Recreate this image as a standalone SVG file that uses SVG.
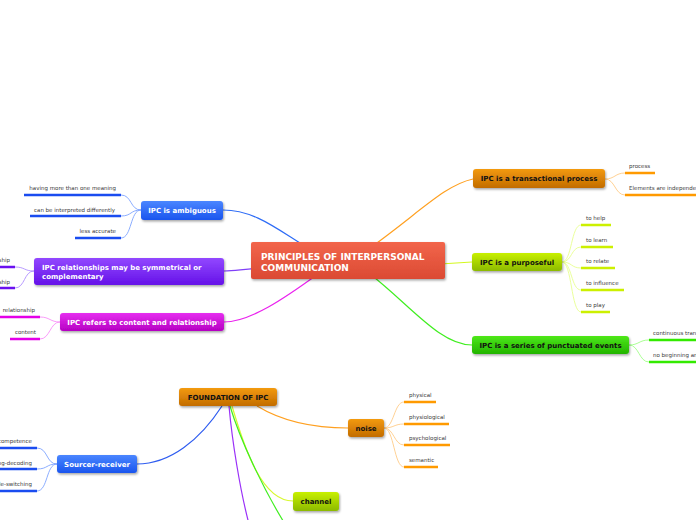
<svg xmlns="http://www.w3.org/2000/svg" width="696" height="520" viewBox="0 0 696 520">
<defs>
<linearGradient id="gRed" x1="0" y1="0" x2="0" y2="1"><stop offset="0" stop-color="#f2654b"/><stop offset="1" stop-color="#db4a33"/></linearGradient>
<linearGradient id="gBlue" x1="0" y1="0" x2="0" y2="1"><stop offset="0" stop-color="#4a86ff"/><stop offset="1" stop-color="#1a55ee"/></linearGradient>
<linearGradient id="gPurple" x1="0" y1="0" x2="0" y2="1"><stop offset="0" stop-color="#9248ff"/><stop offset="1" stop-color="#6512e8"/></linearGradient>
<linearGradient id="gMag" x1="0" y1="0" x2="0" y2="1"><stop offset="0" stop-color="#e62ef0"/><stop offset="1" stop-color="#b500c2"/></linearGradient>
<linearGradient id="gOrange" x1="0" y1="0" x2="0" y2="1"><stop offset="0" stop-color="#f39a10"/><stop offset="1" stop-color="#c26c00"/></linearGradient>
<linearGradient id="gYG" x1="0" y1="0" x2="0" y2="1"><stop offset="0" stop-color="#c8f000"/><stop offset="1" stop-color="#8cba00"/></linearGradient>
<linearGradient id="gGreen" x1="0" y1="0" x2="0" y2="1"><stop offset="0" stop-color="#4ee81a"/><stop offset="1" stop-color="#22b400"/></linearGradient>
<filter id="sh" x="-10%" y="-30%" width="120%" height="170%"><feDropShadow dx="1" dy="1.5" stdDeviation="1" flood-color="#000" flood-opacity="0.35"/></filter>
</defs>
<style>
.node rect{filter:url(#sh)}
.nt{font-family:"DejaVu Sans",Verdana,sans-serif;font-weight:bold;font-size:7px}
.big{font-size:9px}
.w{fill:#ffffff}
.k{fill:#111111}
.lt{font-family:"DejaVu Sans",Verdana,sans-serif;font-size:5.5px;fill:#3a3a3a}
.c{fill:none;stroke-width:1.2}
.b{fill:none;stroke-width:0.9}
.ln{fill:none;stroke-width:2.6}
</style>
<rect width="696" height="520" fill="#ffffff"/>

<g id="connectors">
<path class="c" stroke="#2e6cf6" d="M223,210 C255,210 278,230 308,248"/>
<path class="c" stroke="#8040f8" d="M224,271 C236,271 242,269 262,268"/>
<path class="c" stroke="#ea22ee" d="M224,322 C250,322 285,298 318,274"/>
<path class="c" stroke="#ffa020" d="M370,248 C420,212 445,185 473,179"/>
<path class="c" stroke="#d4f820" d="M440,264 L472,262"/>
<path class="c" stroke="#40ee20" d="M370,274 C410,305 440,345 472,345"/>
<path class="c" stroke="#2e5cf0" d="M222,406 C200,440 170,464 137,464"/>
<path class="c" stroke="#ffa020" d="M257,406 C280,420 310,428 348,428"/>
<path class="c" stroke="#d8f830" d="M232,406 C245,450 262,501 293,501"/>
<path class="c" stroke="#40ee20" stroke-width="1.6" d="M230,406 C240,440 264,490 285,524"/>
<path class="c" stroke="#9a30f8" stroke-width="1.4" d="M229,406 C232,440 240,490 249,524"/>

<g stroke="#7ea4ff" class="b">
<path d="M141,210 C130,210 132,195 121,195"/>
<path d="M141,210 C130,210 132,216 121,216"/>
<path d="M141,210 C130,210 132,238 121,238"/>
<path d="M57,464 C46,464 48,448 37,448"/>
<path d="M57,464 C46,464 48,469 37,469"/>
<path d="M57,464 C46,464 48,491 37,491"/>
</g>
<g stroke="#b090ff" class="b">
<path d="M34,271 C24,271 25,267 15,267"/>
<path d="M34,271 C24,271 25,288 15,288"/>
</g>
<g stroke="#f890f8" class="b">
<path d="M60,322 C50,322 50,317 40,317"/>
<path d="M60,322 C50,322 50,339 40,339"/>
</g>
<g stroke="#ffcc88" class="b">
<path d="M605,179 C615,179 615,173 625,173"/>
<path d="M605,179 C615,179 615,195 625,195"/>
<path d="M384,428 C394,428 394,402 404,402"/>
<path d="M384,428 C394,428 394,424 404,424"/>
<path d="M384,428 C394,428 394,445 404,445"/>
<path d="M384,428 C394,428 394,467 404,467"/>
</g>
<g stroke="#e8ff90" class="b">
<path d="M562,262 C572,262 571,225 581,225"/>
<path d="M562,262 C572,262 571,247 581,247"/>
<path d="M562,262 C572,262 571,268 581,268"/>
<path d="M562,262 C572,262 571,290 581,290"/>
<path d="M562,262 C572,262 571,312 581,312"/>
</g>
<g stroke="#a0ff88" class="b">
<path d="M629,345 C639,345 639,340 649,340"/>
<path d="M629,345 C639,345 639,362 649,362"/>
</g>
</g>

<g id="leaves-ambiguous">
<path class="ln" stroke="#1a4cf0" d="M24,195 H121 M30,216 H121 M75,238 H121"/>
<text class="lt" x="116" y="190" text-anchor="end">having more than one meaning</text>
<text class="lt" x="115" y="212" text-anchor="end">can be interpreted differently</text>
<text class="lt" x="116" y="233" text-anchor="end">less accurate</text>
</g>
<g id="leaves-symmetric">
<path class="ln" stroke="#6a10f0" d="M-5,267 H15 M-5,288 H15"/>
<text class="lt" x="10" y="262" text-anchor="end">symmetrical relationship</text>
<text class="lt" x="10" y="284" text-anchor="end">complementary relationship</text>
</g>
<g id="leaves-content">
<path class="ln" stroke="#e400e8" d="M-2,317 H40 M10,339 H40"/>
<text class="lt" x="35" y="312" text-anchor="end">relationship</text>
<text class="lt" x="36" y="334" text-anchor="end">content</text>
</g>
<g id="leaves-transactional">
<path class="ln" stroke="#ff9a00" d="M625,173 H655 M625,195 H700"/>
<text class="lt" x="629" y="168">process</text>
<text class="lt" x="629" y="190">Elements are independent</text>
</g>
<g id="leaves-purposeful">
<path class="ln" stroke="#ccf000" d="M581,225 H611 M581,247 H613 M581,268 H615 M581,290 H624 M581,312 H610"/>
<text class="lt" x="586" y="220">to help</text>
<text class="lt" x="586" y="242">to learn</text>
<text class="lt" x="586" y="263">to relate</text>
<text class="lt" x="586" y="285">to influence</text>
<text class="lt" x="586" y="307">to play</text>
</g>
<g id="leaves-punctuated">
<path class="ln" stroke="#33ea00" d="M649,340 H700 M649,362 H700"/>
<text class="lt" x="653" y="335">continuous transactions</text>
<text class="lt" x="653" y="357">no beginning and no end</text>
</g>
<g id="leaves-noise">
<path class="ln" stroke="#ff9a00" d="M404,402 H436 M404,424 H449 M404,445 H450 M404,467 H438"/>
<text class="lt" x="409" y="397">physical</text>
<text class="lt" x="409" y="419">physiological</text>
<text class="lt" x="409" y="440">psychological</text>
<text class="lt" x="409" y="462">semantic</text>
</g>
<g id="leaves-sourcer">
<path class="ln" stroke="#1a4cf0" d="M-5,448 H37 M-5,469 H37 M-5,491 H37"/>
<text class="lt" x="32" y="443" text-anchor="end">communication competence</text>
<text class="lt" x="32" y="465" text-anchor="end">encoding-decoding</text>
<text class="lt" x="32" y="486" text-anchor="end">code-switching</text>
</g>

<g id="center" class="node">
<rect x="251" y="242" width="194" height="37" rx="2" fill="url(#gRed)"/>
<text class="nt big w" x="261" y="260">PRINCIPLES OF INTERPERSONAL</text>
<text class="nt big w" x="261" y="271">COMMUNICATION</text>
</g>
<g id="ambiguous" class="node">
<rect x="141" y="201" width="82" height="19" rx="3" fill="url(#gBlue)"/>
<text class="nt w" x="182" y="213" text-anchor="middle">IPC is ambiguous</text>
</g>
<g id="symmetrical" class="node">
<rect x="34" y="258" width="190" height="27" rx="3" fill="url(#gPurple)"/>
<text class="nt w" x="42" y="270">IPC relationships may be symmetrical or</text>
<text class="nt w" x="42" y="279">complementary</text>
</g>
<g id="content-relationship" class="node">
<rect x="60" y="313" width="164" height="18" rx="3" fill="url(#gMag)"/>
<text class="nt w" x="142" y="325" text-anchor="middle">IPC refers to content and relationship</text>
</g>
<g id="transactional" class="node">
<rect x="473" y="169" width="132" height="19" rx="3" fill="url(#gOrange)"/>
<text class="nt k" x="539" y="181" text-anchor="middle">IPC is a transactional process</text>
</g>
<g id="purposeful" class="node">
<rect x="472" y="253" width="90" height="18" rx="3" fill="url(#gYG)"/>
<text class="nt k" x="517" y="265" text-anchor="middle">IPC is a purposeful</text>
</g>
<g id="punctuated" class="node">
<rect x="472" y="336" width="157" height="18" rx="3" fill="url(#gGreen)"/>
<text class="nt k" x="550.5" y="348" text-anchor="middle">IPC is a series of punctuated events</text>
</g>
<g id="foundation" class="node">
<rect x="179" y="388" width="98" height="18" rx="3" fill="url(#gOrange)"/>
<text class="nt k" x="228" y="400" text-anchor="middle">FOUNDATION OF IPC</text>
</g>
<g id="sourcer-receiver" class="node">
<rect x="57" y="455" width="80" height="18" rx="3" fill="url(#gBlue)"/>
<text class="nt w" x="97" y="467" text-anchor="middle">Sourcer-receiver</text>
</g>
<g id="noise" class="node">
<rect x="348" y="419" width="36" height="18" rx="3" fill="url(#gOrange)"/>
<text class="nt k" x="366" y="431" text-anchor="middle">noise</text>
</g>
<g id="channel" class="node">
<rect x="293" y="492" width="46" height="19" rx="3" fill="url(#gYG)"/>
<text class="nt k" x="316" y="504" text-anchor="middle">channel</text>
</g>
</svg>
